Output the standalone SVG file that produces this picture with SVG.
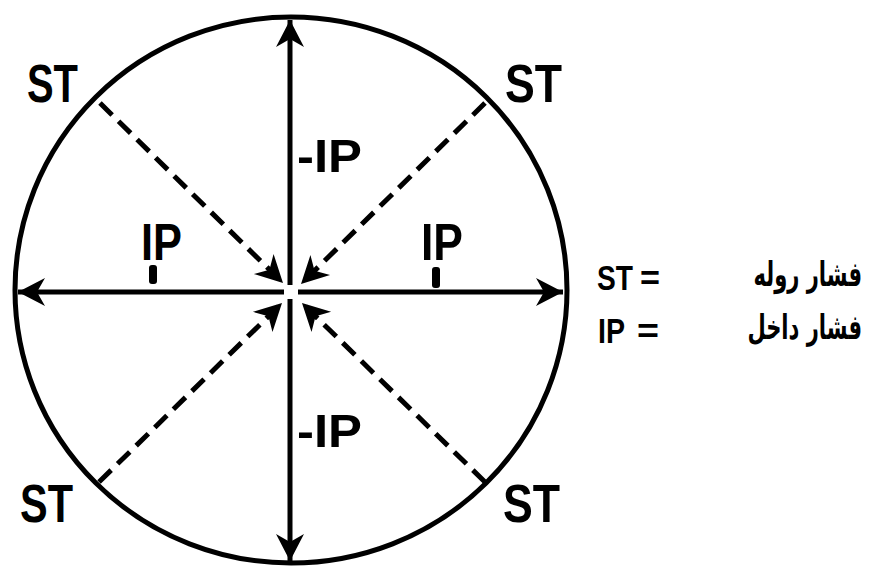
<svg xmlns="http://www.w3.org/2000/svg" width="877" height="566" viewBox="0 0 877 566">
<style>
.solid{stroke:#000;stroke-width:5;fill:none}
.dash{stroke:#000;stroke-width:5;fill:none;stroke-dasharray:17 9}
.lbl{font-family:"Liberation Sans",Arial,sans-serif;font-weight:bold;fill:#000}
.fa{font-family:"DejaVu Sans","Noto Sans",sans-serif;font-weight:bold;fill:#000}
</style>
<defs>
<marker id="ah" markerUnits="userSpaceOnUse" markerWidth="40" markerHeight="40" viewBox="-30 -20 40 40" refX="0" refY="0" orient="auto">
<path d="M0,0 L-27,-14 L-19,0 L-27,14 Z" fill="#000"/>
</marker>
</defs>
<rect width="877" height="566" fill="#fff"/>
<g id="circle">
<ellipse cx="291" cy="290" rx="276" ry="273" class="solid"/>
</g>
<g id="connectors">
<line x1="284" y1="292" x2="18" y2="292" class="solid" marker-end="url(#ah)"/>
<line x1="298" y1="292" x2="563" y2="292" class="solid" marker-end="url(#ah)"/>
<line x1="290" y1="285" x2="290" y2="20" class="solid" marker-end="url(#ah)"/>
<line x1="290" y1="299" x2="290" y2="561" class="solid" marker-end="url(#ah)"/>
<line x1="100" y1="103" x2="283" y2="283" class="dash" marker-end="url(#ah)"/>
<line x1="485" y1="103" x2="301" y2="284" class="dash" marker-end="url(#ah)"/>
<line x1="99" y1="482" x2="282" y2="303" class="dash" marker-end="url(#ah)"/>
<line x1="485" y1="482" x2="302" y2="303" class="dash" marker-end="url(#ah)"/>
</g>
<g id="st-labels" class="lbl">
<text x="27" y="102" font-size="54" textLength="51" lengthAdjust="spacingAndGlyphs">ST</text>
<text x="505" y="102" font-size="54" textLength="57" lengthAdjust="spacingAndGlyphs">ST</text>
<text x="20" y="522" font-size="54" textLength="53" lengthAdjust="spacingAndGlyphs">ST</text>
<text x="503" y="522" font-size="54" textLength="57" lengthAdjust="spacingAndGlyphs">ST</text>
</g>
<g id="ip-labels" class="lbl">
<text x="141" y="260" font-size="52" textLength="41" lengthAdjust="spacingAndGlyphs">IP</text>
<rect x="149" y="265" width="8" height="19" rx="3"/>
<text x="421" y="260" font-size="52" textLength="42" lengthAdjust="spacingAndGlyphs">IP</text>
<rect x="432" y="267" width="8" height="21" rx="3"/>
<text x="297" y="172" font-size="47" textLength="65" lengthAdjust="spacingAndGlyphs">-IP</text>
<text x="297" y="447" font-size="47" textLength="65" lengthAdjust="spacingAndGlyphs">-IP</text>
</g>
<g id="legend">
<text class="lbl" x="597" y="290" font-size="35" textLength="36" lengthAdjust="spacingAndGlyphs">ST</text>
<text class="lbl" x="640" y="290" font-size="35" textLength="20" lengthAdjust="spacingAndGlyphs">=</text>
<text class="lbl" x="598" y="343" font-size="35" textLength="27" lengthAdjust="spacingAndGlyphs">IP</text>
<text class="lbl" x="637" y="343" font-size="35" textLength="22" lengthAdjust="spacingAndGlyphs">=</text>
<text class="fa" transform="translate(862,286) scale(0.62,1)" font-size="34" text-anchor="end">فشار روله</text>
<text class="fa" transform="translate(862,339) scale(0.62,1)" font-size="34" text-anchor="end">فشار داخل</text>
</g>
</svg>
